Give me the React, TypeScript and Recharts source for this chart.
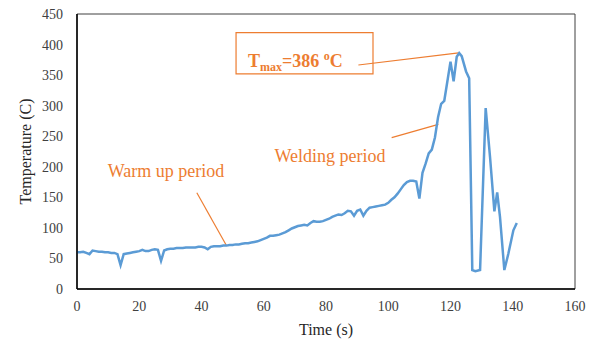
import {
  LineChart,
  Line,
  XAxis,
  YAxis,
  ReferenceArea,
  ReferenceLine,
  ReferenceDot,
} from 'recharts'

// time (s) and thermocouple temperature (C)
const times = [
  0, 1, 2, 3, 4, 5, 6, 7, 8, 9, 10, 11, 12, 13, 14, 15, 16, 17, 18, 19,
  20, 21, 22, 23, 24, 25, 26, 27, 28, 29, 30, 31, 32, 33, 34, 35, 36, 37, 38, 39,
  40, 41, 42, 43, 44, 45, 46, 47, 48, 49, 50, 51, 52, 53, 54, 55, 56, 57, 58, 59,
  60, 61, 62, 63, 64, 65, 66, 67, 68, 69, 70, 71, 72, 73, 74, 75, 76, 77, 78, 79,
  80, 81, 82, 83, 84, 85, 86, 87, 88, 89, 90, 91, 92, 93, 94, 95, 96, 97, 98, 99,
  100, 101, 102, 103, 104, 105, 106, 107, 108, 109, 110, 111, 112, 113, 114, 115, 116, 117, 118, 119,
  120, 121, 122, 122.8, 123.6, 125, 126, 127, 128, 129.5, 131.3, 132.7, 134.1, 135, 135.9, 137.3, 138.6, 140.2, 141.3,
]
const temps = [
  60, 60, 61, 59, 57, 63, 62, 61, 61, 60, 60, 59, 59, 57, 39, 57, 58, 59, 60, 61,
  62, 64, 62, 62, 64, 65, 64, 46, 63, 65, 66, 66, 67, 67, 67, 68, 68, 68, 68, 69,
  69, 68, 65, 69, 70, 70, 70, 71, 71, 72, 72, 73, 73, 74, 75, 75, 76, 77, 78, 80,
  82, 84, 87, 87, 88, 89, 91, 93, 96, 99, 101, 103, 104, 105, 104, 108, 111, 110, 110, 111,
  113, 115, 118, 120, 122, 121, 124, 128, 127, 120, 128, 130, 120, 128, 133, 134, 135, 136, 137, 138,
  141, 146, 150, 156, 163, 170, 175, 177, 177, 176, 148, 190, 205, 222, 228, 248, 281, 303, 308, 340,
  372, 340, 380, 386, 381, 356, 345, 31, 29, 31, 296, 216, 127, 158, 118, 31, 58, 96, 108,
]

const xTicks = [0, 20, 40, 60, 80, 100, 120, 140, 160]
const yTicks = [0, 50, 100, 150, 200, 250, 300, 350, 400, 450]

const data = times.map((t, i) => ({ time: t, temp: temps[i] }))

const orange = '#ED7D31'
const serif = '"Liberation Serif", "Times New Roman", serif'

const TmaxLabel = (props: any) => {
  const vb = props.viewBox
  return (
    <text
      x={vb.x}
      y={vb.y}
      fill={orange}
      fontFamily={serif}
      fontSize={18}
      fontWeight="bold"
    >
      T
      <tspan fontSize={12} dy={4}>
        max
      </tspan>
      <tspan dy={-4}>=386 </tspan>
      <tspan fontSize={12} dy={-7}>
        o
      </tspan>
      <tspan dy={7}>C</tspan>
    </text>
  )
}

export default function App() {
  return (
    <div style={{ position: 'absolute', left: 0, top: 0, background: '#fff' }}>
      <LineChart
        width={592}
        height={340}
        data={data}
        margin={{ top: 14, right: 17, left: 0, bottom: 0 }}
      >
        <XAxis
          dataKey="time"
          type="number"
          domain={[0, 160]}
          ticks={xTicks}
          height={51}
          tickLine={false}
          tickSize={0}
          tickMargin={12}
          axisLine={{ stroke: '#000', strokeWidth: 1.5 }}
          tick={{ fontSize: 14, fill: '#404040', fontFamily: serif }}
          label={{
            value: 'Time (s)',
            position: 'center',
            dy: 15,
            fontSize: 16,
            fill: '#262626',
            fontFamily: serif,
          }}
        />
        <YAxis
          type="number"
          domain={[0, 450]}
          ticks={yTicks}
          width={77}
          tickLine={false}
          tickSize={0}
          tickMargin={14}
          axisLine={{ stroke: '#000', strokeWidth: 1.5 }}
          tick={{ fontSize: 14, fill: '#404040', fontFamily: serif }}
          label={{
            value: 'Temperature (C)',
            angle: -90,
            position: 'center',
            dx: -13,
            fontSize: 16,
            fill: '#262626',
            fontFamily: serif,
          }}
        />
        <ReferenceArea
          x1={0}
          x2={160}
          y1={0}
          y2={450}
          fill="none"
          fillOpacity={0}
          stroke="#404040"
          strokeWidth={1}
        />
        <ReferenceArea
          x1={51.1}
          x2={95.1}
          y1={352}
          y2={419.5}
          fill="#fff"
          fillOpacity={1}
          stroke={orange}
          strokeWidth={1.2}
        />
        <ReferenceLine
          segment={[
            { x: 38.5, y: 157.6 },
            { x: 48.1, y: 70.4 },
          ]}
          stroke={orange}
          strokeWidth={1.2}
        />
        <ReferenceLine
          segment={[
            { x: 101.1, y: 247.6 },
            { x: 116.1, y: 269.5 },
          ]}
          stroke={orange}
          strokeWidth={1.2}
        />
        <ReferenceLine
          segment={[
            { x: 90.4, y: 366.5 },
            { x: 122.6, y: 386.5 },
          ]}
          stroke={orange}
          strokeWidth={1.2}
        />
        <Line
          type="linear"
          dataKey="temp"
          stroke="#5B9BD5"
          strokeWidth={2.5}
          dot={false}
          isAnimationActive={false}
        />
        <ReferenceDot
          x={28.6}
          y={193}
          r={0}
          fill="none"
          stroke="none"
          label={{
            value: 'Warm up period',
            position: 'center',
            fontSize: 18,
            fill: orange,
            fontFamily: serif,
          }}
        />
        <ReferenceDot
          x={81.3}
          y={219}
          r={0}
          fill="none"
          stroke="none"
          label={{
            value: 'Welding period',
            position: 'center',
            fontSize: 18,
            fill: orange,
            fontFamily: serif,
          }}
        />
        <ReferenceDot
          x={54.9}
          y={363.3}
          r={0}
          fill="none"
          stroke="none"
          label={TmaxLabel}
        />
      </LineChart>
    </div>
  )
}
